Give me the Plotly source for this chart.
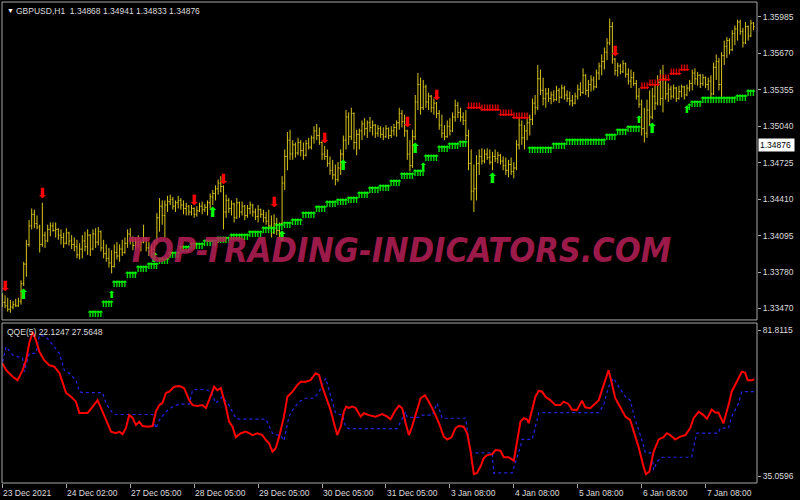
import plotly.graph_objects as go

# ---- GBPUSD H1 bars (index = bar number from the left edge) ----
bar_open = [
    1.3357, 1.3352, 1.3349, 1.3346, 1.3348, 1.3350, 1.3349, 1.3353, 1.3368, 1.3385,
    1.3402, 1.3418, 1.3428, 1.3420, 1.3417, 1.3402, 1.3410, 1.3405, 1.3415, 1.3418,
    1.3414, 1.3415, 1.3410, 1.3408, 1.3403, 1.3412, 1.3405, 1.3402, 1.3400, 1.3393,
    1.3398, 1.3405, 1.3400, 1.3410, 1.3398, 1.3411, 1.3404, 1.3413, 1.3399, 1.3394,
    1.3390, 1.3386, 1.3383, 1.3395, 1.3392, 1.3398, 1.3395, 1.3403, 1.3411, 1.3406,
    1.3401, 1.3404, 1.3402, 1.3404, 1.3407, 1.3399, 1.3396, 1.3398, 1.3403, 1.3425,
    1.3435, 1.3427, 1.3436, 1.3439, 1.3441, 1.3435, 1.3438, 1.3440, 1.3436, 1.3433,
    1.3435, 1.3430, 1.3433, 1.3428, 1.3431, 1.3435, 1.3432, 1.3434, 1.3438, 1.3443,
    1.3446, 1.3450, 1.3455, 1.3452, 1.3430, 1.3440, 1.3433, 1.3437, 1.3425, 1.3438,
    1.3430, 1.3435, 1.3427, 1.3433, 1.3436, 1.3430, 1.3426, 1.3432, 1.3428, 1.3425,
    1.3422, 1.3418, 1.3412, 1.3420, 1.3414, 1.3420, 1.3455, 1.3478, 1.3492, 1.3480,
    1.3488, 1.3481, 1.3490, 1.3483, 1.3479, 1.3489, 1.3486, 1.3494, 1.3500, 1.3496,
    1.3490, 1.3480, 1.3478, 1.3472, 1.3466, 1.3462, 1.3458, 1.3468, 1.3480, 1.3492,
    1.3512, 1.3495, 1.3515, 1.3490, 1.3497, 1.3500, 1.3506, 1.3502, 1.3507, 1.3503,
    1.3505, 1.3498, 1.3502, 1.3497, 1.3495, 1.3502, 1.3496, 1.3500, 1.3503, 1.3507,
    1.3515, 1.3508, 1.3500, 1.3480, 1.3470, 1.3495, 1.3525, 1.3540, 1.3520, 1.3538,
    1.3525, 1.3530, 1.3520, 1.3524, 1.3515, 1.3505, 1.3498, 1.3495, 1.3504, 1.3500,
    1.3512, 1.3522, 1.3516, 1.3512, 1.3509, 1.3496, 1.3472, 1.3448, 1.3450, 1.3472,
    1.3478, 1.3474, 1.3480, 1.3477, 1.3473, 1.3478, 1.3476, 1.3479, 1.3474, 1.3470,
    1.3466, 1.3471, 1.3465, 1.3468, 1.3488, 1.3505, 1.3494, 1.3500, 1.3507, 1.3510,
    1.3524, 1.3520, 1.3545, 1.3535, 1.3528, 1.3532, 1.3528, 1.3531, 1.3527, 1.3535,
    1.3529, 1.3537, 1.3531, 1.3528, 1.3526, 1.3524, 1.3530, 1.3536, 1.3533, 1.3548,
    1.3535, 1.3540, 1.3544, 1.3538, 1.3550, 1.3556, 1.3560, 1.3568, 1.3576, 1.3590,
    1.3562, 1.3552, 1.3556, 1.3551, 1.3558, 1.3549, 1.3543, 1.3546, 1.3541, 1.3530,
    1.3523, 1.3502, 1.3498, 1.3518, 1.3512, 1.3530, 1.3524, 1.3542, 1.3528, 1.3545,
    1.3532, 1.3536, 1.3530, 1.3537, 1.3528, 1.3534, 1.3538, 1.3531, 1.3537, 1.3541,
    1.3550, 1.3545, 1.3548, 1.3541, 1.3546, 1.3540, 1.3543, 1.3532, 1.3555, 1.3560,
    1.3540, 1.3565, 1.3573, 1.3578, 1.3570, 1.3584, 1.3588, 1.3594, 1.3586, 1.3576,
    1.3590, 1.3582, 1.3593,
]
bar_high = [
    1.3360, 1.3358, 1.3356, 1.3354, 1.3353, 1.3355, 1.3356, 1.3371, 1.3387, 1.3406,
    1.3423, 1.3433, 1.3432, 1.3427, 1.3419, 1.3438, 1.3413, 1.3419, 1.3421, 1.3421,
    1.3421, 1.3416, 1.3415, 1.3412, 1.3416, 1.3413, 1.3410, 1.3408, 1.3406, 1.3403,
    1.3410, 1.3413, 1.3415, 1.3411, 1.3415, 1.3416, 1.3417, 1.3414, 1.3406, 1.3402,
    1.3399, 1.3397, 1.3402, 1.3404, 1.3402, 1.3406, 1.3408, 1.3415, 1.3416, 1.3409,
    1.3408, 1.3410, 1.3406, 1.3419, 1.3408, 1.3404, 1.3402, 1.3406, 1.3429, 1.3442,
    1.3440, 1.3440, 1.3444, 1.3445, 1.3443, 1.3440, 1.3444, 1.3442, 1.3440, 1.3438,
    1.3436, 1.3436, 1.3434, 1.3435, 1.3438, 1.3439, 1.3437, 1.3440, 1.3446, 1.3449,
    1.3453, 1.3458, 1.3461, 1.3453, 1.3445, 1.3442, 1.3440, 1.3438, 1.3442, 1.3439,
    1.3439, 1.3436, 1.3436, 1.3439, 1.3437, 1.3433, 1.3436, 1.3433, 1.3432, 1.3430,
    1.3432, 1.3427, 1.3428, 1.3425, 1.3421, 1.3461, 1.3484, 1.3499, 1.3501, 1.3492,
    1.3490, 1.3494, 1.3492, 1.3490, 1.3492, 1.3494, 1.3496, 1.3504, 1.3506, 1.3503,
    1.3491, 1.3487, 1.3484, 1.3478, 1.3475, 1.3471, 1.3473, 1.3484, 1.3496, 1.3518,
    1.3516, 1.3520, 1.3516, 1.3501, 1.3502, 1.3509, 1.3511, 1.3509, 1.3512, 1.3509,
    1.3506, 1.3505, 1.3504, 1.3503, 1.3505, 1.3503, 1.3504, 1.3506, 1.3509, 1.3520,
    1.3518, 1.3514, 1.3501, 1.3492, 1.3501, 1.3531, 1.3550, 1.3546, 1.3544, 1.3540,
    1.3533, 1.3531, 1.3528, 1.3525, 1.3518, 1.3514, 1.3505, 1.3509, 1.3511, 1.3516,
    1.3527, 1.3525, 1.3520, 1.3516, 1.3518, 1.3501, 1.3484, 1.3471, 1.3479, 1.3484,
    1.3485, 1.3484, 1.3485, 1.3484, 1.3482, 1.3484, 1.3482, 1.3480, 1.3478, 1.3477,
    1.3475, 1.3477, 1.3473, 1.3492, 1.3511, 1.3509, 1.3505, 1.3511, 1.3514, 1.3528,
    1.3531, 1.3557, 1.3553, 1.3546, 1.3537, 1.3537, 1.3534, 1.3535, 1.3539, 1.3537,
    1.3540, 1.3539, 1.3535, 1.3534, 1.3531, 1.3533, 1.3540, 1.3542, 1.3554, 1.3549,
    1.3544, 1.3548, 1.3547, 1.3553, 1.3559, 1.3566, 1.3572, 1.3580, 1.3597, 1.3594,
    1.3563, 1.3559, 1.3558, 1.3561, 1.3559, 1.3554, 1.3553, 1.3551, 1.3544, 1.3537,
    1.3527, 1.3520, 1.3527, 1.3535, 1.3537, 1.3540, 1.3548, 1.3553, 1.3557, 1.3546,
    1.3541, 1.3539, 1.3540, 1.3538, 1.3539, 1.3540, 1.3539, 1.3540, 1.3544, 1.3553,
    1.3554, 1.3551, 1.3549, 1.3549, 1.3547, 1.3546, 1.3548, 1.3559, 1.3566, 1.3563,
    1.3568, 1.3578, 1.3581, 1.3580, 1.3587, 1.3591, 1.3596, 1.3596, 1.3589, 1.3594,
    1.3591, 1.3596, 1.3594,
]
bar_low = [
    1.3348, 1.3347, 1.3344, 1.3343, 1.3346, 1.3348, 1.3348, 1.3350, 1.3366, 1.3374,
    1.3400, 1.3415, 1.3416, 1.3415, 1.3395, 1.3400, 1.3399, 1.3404, 1.3409, 1.3413,
    1.3408, 1.3406, 1.3402, 1.3399, 1.3402, 1.3401, 1.3398, 1.3396, 1.3390, 1.3389,
    1.3390, 1.3396, 1.3393, 1.3392, 1.3397, 1.3399, 1.3401, 1.3396, 1.3390, 1.3387,
    1.3382, 1.3377, 1.3382, 1.3389, 1.3387, 1.3392, 1.3394, 1.3399, 1.3402, 1.3397,
    1.3397, 1.3399, 1.3396, 1.3403, 1.3396, 1.3392, 1.3391, 1.3393, 1.3402, 1.3413,
    1.3419, 1.3408, 1.3430, 1.3436, 1.3432, 1.3430, 1.3433, 1.3432, 1.3428, 1.3427,
    1.3427, 1.3427, 1.3425, 1.3426, 1.3430, 1.3428, 1.3430, 1.3427, 1.3433, 1.3436,
    1.3440, 1.3445, 1.3447, 1.3415, 1.3425, 1.3429, 1.3427, 1.3421, 1.3424, 1.3425,
    1.3427, 1.3423, 1.3425, 1.3428, 1.3426, 1.3423, 1.3421, 1.3425, 1.3421, 1.3419,
    1.3415, 1.3408, 1.3411, 1.3410, 1.3408, 1.3419, 1.3449, 1.3466, 1.3475, 1.3475,
    1.3477, 1.3479, 1.3478, 1.3475, 1.3478, 1.3484, 1.3484, 1.3489, 1.3492, 1.3488,
    1.3475, 1.3475, 1.3469, 1.3462, 1.3458, 1.3453, 1.3456, 1.3462, 1.3475, 1.3484,
    1.3488, 1.3492, 1.3484, 1.3479, 1.3484, 1.3492, 1.3496, 1.3494, 1.3499, 1.3496,
    1.3494, 1.3495, 1.3494, 1.3492, 1.3494, 1.3493, 1.3494, 1.3496, 1.3495, 1.3501,
    1.3503, 1.3495, 1.3475, 1.3465, 1.3468, 1.3492, 1.3518, 1.3514, 1.3518, 1.3520,
    1.3518, 1.3516, 1.3514, 1.3511, 1.3501, 1.3494, 1.3492, 1.3494, 1.3496, 1.3499,
    1.3508, 1.3511, 1.3508, 1.3505, 1.3492, 1.3466, 1.3440, 1.3430, 1.3440, 1.3462,
    1.3471, 1.3472, 1.3475, 1.3471, 1.3466, 1.3473, 1.3472, 1.3471, 1.3466, 1.3462,
    1.3460, 1.3462, 1.3459, 1.3466, 1.3484, 1.3488, 1.3484, 1.3492, 1.3496, 1.3505,
    1.3514, 1.3518, 1.3531, 1.3522, 1.3520, 1.3525, 1.3523, 1.3525, 1.3526, 1.3524,
    1.3528, 1.3527, 1.3525, 1.3522, 1.3521, 1.3523, 1.3527, 1.3530, 1.3532, 1.3531,
    1.3529, 1.3534, 1.3535, 1.3537, 1.3544, 1.3548, 1.3553, 1.3561, 1.3574, 1.3558,
    1.3548, 1.3547, 1.3549, 1.3550, 1.3546, 1.3540, 1.3537, 1.3539, 1.3527, 1.3520,
    1.3496, 1.3490, 1.3494, 1.3505, 1.3510, 1.3518, 1.3522, 1.3522, 1.3516, 1.3527,
    1.3525, 1.3527, 1.3528, 1.3525, 1.3527, 1.3529, 1.3527, 1.3530, 1.3534, 1.3535,
    1.3540, 1.3539, 1.3537, 1.3539, 1.3537, 1.3535, 1.3528, 1.3531, 1.3544, 1.3535,
    1.3528, 1.3557, 1.3563, 1.3566, 1.3569, 1.3574, 1.3578, 1.3583, 1.3572, 1.3575,
    1.3578, 1.3581, 1.3587,
]
bar_close = [
    1.3352, 1.3349, 1.3346, 1.3348, 1.3350, 1.3349, 1.3353, 1.3368, 1.3385, 1.3402,
    1.3418, 1.3428, 1.3420, 1.3417, 1.3402, 1.3410, 1.3405, 1.3415, 1.3418, 1.3414,
    1.3415, 1.3410, 1.3408, 1.3403, 1.3412, 1.3405, 1.3402, 1.3400, 1.3393, 1.3398,
    1.3405, 1.3400, 1.3410, 1.3398, 1.3411, 1.3404, 1.3413, 1.3399, 1.3394, 1.3390,
    1.3386, 1.3383, 1.3395, 1.3392, 1.3398, 1.3395, 1.3403, 1.3411, 1.3406, 1.3401,
    1.3404, 1.3402, 1.3404, 1.3407, 1.3399, 1.3396, 1.3398, 1.3403, 1.3425, 1.3435,
    1.3427, 1.3436, 1.3439, 1.3441, 1.3435, 1.3438, 1.3440, 1.3436, 1.3433, 1.3435,
    1.3430, 1.3433, 1.3428, 1.3431, 1.3435, 1.3432, 1.3434, 1.3438, 1.3443, 1.3446,
    1.3450, 1.3455, 1.3452, 1.3430, 1.3440, 1.3433, 1.3437, 1.3425, 1.3438, 1.3430,
    1.3435, 1.3427, 1.3433, 1.3436, 1.3430, 1.3426, 1.3432, 1.3428, 1.3425, 1.3422,
    1.3418, 1.3412, 1.3420, 1.3414, 1.3420, 1.3455, 1.3478, 1.3492, 1.3480, 1.3488,
    1.3481, 1.3490, 1.3483, 1.3479, 1.3489, 1.3486, 1.3494, 1.3500, 1.3496, 1.3490,
    1.3480, 1.3478, 1.3472, 1.3466, 1.3462, 1.3458, 1.3468, 1.3480, 1.3492, 1.3512,
    1.3495, 1.3515, 1.3490, 1.3497, 1.3500, 1.3506, 1.3502, 1.3507, 1.3503, 1.3505,
    1.3498, 1.3502, 1.3497, 1.3495, 1.3502, 1.3496, 1.3500, 1.3503, 1.3507, 1.3515,
    1.3508, 1.3500, 1.3480, 1.3470, 1.3495, 1.3525, 1.3540, 1.3520, 1.3538, 1.3525,
    1.3530, 1.3520, 1.3524, 1.3515, 1.3505, 1.3498, 1.3495, 1.3504, 1.3500, 1.3512,
    1.3522, 1.3516, 1.3512, 1.3509, 1.3496, 1.3472, 1.3448, 1.3450, 1.3472, 1.3478,
    1.3474, 1.3480, 1.3477, 1.3473, 1.3478, 1.3476, 1.3479, 1.3474, 1.3470, 1.3466,
    1.3471, 1.3465, 1.3468, 1.3488, 1.3505, 1.3494, 1.3500, 1.3507, 1.3510, 1.3524,
    1.3520, 1.3545, 1.3535, 1.3528, 1.3532, 1.3528, 1.3531, 1.3527, 1.3535, 1.3529,
    1.3537, 1.3531, 1.3528, 1.3526, 1.3524, 1.3530, 1.3536, 1.3533, 1.3548, 1.3535,
    1.3540, 1.3544, 1.3538, 1.3550, 1.3556, 1.3560, 1.3568, 1.3576, 1.3590, 1.3562,
    1.3552, 1.3556, 1.3551, 1.3558, 1.3549, 1.3543, 1.3546, 1.3541, 1.3530, 1.3523,
    1.3502, 1.3498, 1.3518, 1.3512, 1.3530, 1.3524, 1.3542, 1.3528, 1.3545, 1.3532,
    1.3536, 1.3530, 1.3537, 1.3528, 1.3534, 1.3538, 1.3531, 1.3537, 1.3541, 1.3550,
    1.3545, 1.3548, 1.3541, 1.3546, 1.3540, 1.3543, 1.3532, 1.3555, 1.3560, 1.3540,
    1.3565, 1.3573, 1.3578, 1.3570, 1.3584, 1.3588, 1.3594, 1.3586, 1.3576, 1.3590,
    1.3582, 1.3593, 1.3590,
]
bar_idx = list(range(len(bar_close)))

# trailing-stop dots (one arrow per bar)
trail_up_x = list(range(33, 175)) + list(range(198, 240)) + list(range(258, 283))
trail_up = (
    [1.3341] * 5 + [1.3350] * 4 + [1.3367] * 5 + [1.3375] * 4 + [1.3380] * 4
    + [1.3383] * 4 + [1.3387] * 4 + [1.3392] * 4 + [1.3397] * 4 + [1.3400] * 5
    + [1.3403] * 5 + [1.3405] * 5 + [1.3408] * 7 + [1.3410] * 5 + [1.3414] * 5
    + [1.3416] * 3 + [1.3418] * 3 + [1.3421] * 4 + [1.3427] * 5 + [1.3432] * 4
    + [1.3436] * 4 + [1.3438] * 4 + [1.3440] * 4 + [1.3444] * 4 + [1.3448] * 4
    + [1.3450] * 4 + [1.3454] * 4 + [1.3460] * 5 + [1.3463] * 4 + [1.3476] * 5
    + [1.3484] * 4 + [1.3486] * 4 + [1.3488] * 3
    + [1.3483] * 9 + [1.3486] * 5 + [1.3490] * 15 + [1.3494] * 4 + [1.3498] * 4
    + [1.3501] * 5
    + [1.3520] * 1 + [1.3523] * 4 + [1.3526] * 13 + [1.3528] * 4 + [1.3532] * 3
)
trail_dn_x = list(range(175, 198)) + list(range(240, 258))
trail_dn = (
    [1.3521] * 5 + [1.3519] * 7 + [1.3515] * 5 + [1.3512] * 6
    + [1.3538] * 3 + [1.3541] * 4 + [1.3545] * 4 + [1.3550] * 4 + [1.3554] * 3
)

# signal arrows
sig_dn_x = [1, 15, 72, 83, 102, 121, 152, 163, 230]
sig_dn = [1.3365, 1.3445, 1.3439, 1.3457, 1.3437, 1.3493, 1.3506, 1.3530, 1.3568]
sig_up_x = [8, 57, 79, 105, 128, 155, 184, 244]
sig_up = [1.3358, 1.3390, 1.3429, 1.3408, 1.3469, 1.3484, 1.3458, 1.3501]
sig_up_small_x = [41, 158, 239, 257]
sig_up_small = [1.3358, 1.3468, 1.3509, 1.3518]

# ---- QQE(5) sub-window ----
qqe_x = [
    0, 1.4, 3.9, 5.7, 7.6, 8.9, 10.1, 11.4, 12.6, 13.9, 15.7, 17.6, 19.5, 21.4, 23.9,
    25.8, 27.6, 28.9, 30.1, 32.0, 33.9, 35.7, 37.0, 38.9, 40.8, 42.6, 43.9, 45.1, 46.4,
    47.6, 48.9, 50.1, 51.4, 52.6, 54.5, 56.4, 57.6, 58.9, 60.1, 61.4, 62.6, 64.5, 66.4,
    68.2, 70.1, 71.4, 73.2, 75.1, 76.4, 77.6, 79.5, 80.7, 82.0, 83.9, 85.1, 86.4, 87.6,
    89.5, 91.4, 92.6, 93.9, 95.7, 97.6, 98.9, 100.1, 101.4, 102.6, 103.9, 105.7, 107.0,
    108.9, 110.7, 112.0, 113.9, 115.7, 117.6, 118.9, 120.1, 122.0, 123.2, 124.5, 125.7,
    127.0, 128.2, 129.1, 130.1, 131.3, 132.6, 134.5, 135.7, 137.6, 140.1, 142.6, 144.5,
    145.7, 147.6, 148.9, 150.1, 151.4, 152.6, 153.8, 155.7, 157.0, 158.6, 160.1, 162.0,
    163.9, 165.7, 167.0, 168.6, 170.1, 171.4, 173.2, 174.5, 175.7, 177.0, 178.2, 179.5,
    180.7, 182.0, 183.9, 185.1, 187.0, 188.2, 190.1, 192.0, 193.2, 194.5, 195.7, 197.0,
    197.6, 198.8, 200.1, 201.4, 202.6, 203.9, 205.7, 207.6, 209.5, 210.7, 212.6, 213.8,
    215.7, 217.6, 218.8, 220.7, 222.6, 223.9, 225.7, 227.6, 228.8, 230.1, 232.0, 233.9,
    235.7, 237.6, 238.8, 240.7, 241.6, 242.9, 244.5, 246.4, 248.2, 249.5, 250.7, 252.6,
    254.5, 256.4, 258.2, 259.5, 261.4, 263.2, 264.5, 266.3, 267.6, 268.8, 270.7, 272.6,
    273.8, 275.7, 277.6, 278.8, 279.8, 281.3, 282.3,
]
qqe_main = [
    71.2, 69.0, 66.9, 65.8, 69.0, 72.2, 77.7, 81.3, 78.6, 74.9, 72.2, 70.6, 70.1, 68.1, 61.7,
    60.5, 58.9, 55.3, 55.3, 55.3, 57.3, 59.4, 56.9, 53.0, 49.3, 48.8, 49.3, 48.5, 50.5,
    54.6, 53.7, 51.4, 52.5, 51.1, 50.9, 51.1, 55.7, 57.8, 58.5, 61.7, 62.1, 63.7, 63.9,
    63.3, 59.4, 57.8, 57.5, 57.8, 56.9, 59.4, 63.7, 62.6, 63.3, 57.3, 52.5, 50.9, 47.5,
    48.8, 49.3, 48.8, 48.2, 48.8, 48.2, 46.6, 45.6, 42.9, 44.0, 47.7, 54.1, 60.5,
    62.1, 64.2, 65.3, 65.3, 65.8, 68.0, 67.4, 63.7, 59.4, 56.2, 52.0, 48.2,
    50.9, 55.7, 57.3, 56.9, 57.3, 56.9, 54.1, 55.2, 54.6, 54.1, 54.9, 54.1,
    53.3, 56.2, 57.6, 56.8, 52.0, 48.2, 50.9, 56.2, 60.0, 61.0, 58.9, 55.7,
    52.0, 47.7, 46.8, 47.5, 50.4, 51.1, 50.9, 48.8, 43.4, 35.7, 36.1, 38.1,
    40.8, 41.8, 42.1, 43.4, 43.2, 41.1, 41.1, 40.0, 45.6, 52.5, 53.6, 53.2,
    52.0, 55.7, 60.5, 62.4, 62.1, 60.5, 59.4, 57.8, 57.8, 58.9, 58.1, 56.4,
    56.2, 59.2, 57.1, 56.8, 58.4, 59.4, 64.2, 69.0, 64.8, 60.0, 57.1, 54.1,
    53.0, 47.7, 44.5, 38.1, 35.7, 36.5, 42.9, 46.8, 47.5, 48.8, 48.2, 46.8,
    47.7, 48.2, 50.4, 53.6, 55.7, 54.6, 53.4, 56.4, 55.4, 55.4, 52.0, 57.8,
    62.1, 65.3, 68.5, 68.2, 65.8, 65.8, 66.1,
]
qqe_level_x = [
    0.1, 1.4, 3.9, 7.6, 8.2, 10.1, 12.6, 13.9, 16.4, 18.9, 21.4, 23.2, 25.1, 27.6, 28.9,
    30.1, 37.6, 38.9, 41.4, 42.6, 56.4, 57.6, 58.9, 61.4, 63.9, 66.4, 70.1, 71.4, 73.2,
    76.4, 78.3, 80.1, 82.6, 85.1, 87.6, 88.9, 98.9, 101.4, 103.2, 104.5, 105.7, 107.6,
    108.9, 111.4, 113.9, 117.0, 118.9, 121.4, 122.6, 125.1, 127.6, 128.9, 130.1, 148.2,
    148.9, 151.4, 152.0, 156.4, 157.6, 161.4, 163.2, 165.1, 173.9, 175.7, 176.4, 183.9,
    184.5, 185.1, 191.4, 192.6, 194.5, 195.1, 198.9, 200.1, 201.4, 223.9, 225.7, 227.6,
    229.5, 231.4, 233.9, 235.7, 237.6, 240.1, 241.4, 243.8, 244.5, 245.7, 247.6, 258.8,
    259.5, 260.7, 268.8, 269.5, 272.6, 273.8, 276.4, 277.6, 282.6,
]
qqe_level = [
    71.7, 76.5, 73.8, 72.8, 68.5, 74.4, 74.4, 80.2, 79.7, 77.0, 74.4, 69.0, 68.0, 65.8, 62.1,
    61.8, 61.8, 58.4, 55.2, 54.8, 54.8, 50.3, 53.0, 55.7, 57.3, 58.1, 58.1, 62.6, 62.8,
    62.8, 62.1, 58.4, 60.5, 57.8, 53.6, 53.3, 53.3, 48.8, 48.2, 48.2, 46.4, 54.1,
    56.2, 58.9, 60.0, 60.0, 62.1, 66.4, 62.6, 55.2, 54.6, 50.7, 50.3, 50.3,
    51.4, 55.7, 53.9, 53.9, 54.6, 54.6, 58.4, 53.6, 53.6, 42.9, 42.5, 42.5,
    35.9, 36.1, 36.1, 39.2, 44.5, 46.8, 46.8, 50.9, 55.4, 55.4, 57.8, 63.7,
    66.4, 63.7, 60.5, 59.4, 53.0, 46.6, 42.5, 42.5, 37.0, 39.6, 41.1, 41.1,
    44.5, 48.8, 48.8, 50.4, 50.4, 54.1, 58.4, 62.1, 62.1,
]

# ---- axes labels ----
price_ticks = [1.35985, 1.35670, 1.35355, 1.35040, 1.34725, 1.34410, 1.34095, 1.33780, 1.33470]
qqe_ticks = [81.8115, 35.0596]
date_ticks = [0, 24, 48, 72, 96, 120, 144, 168, 192, 216, 240, 264]
date_labels = [
    "23 Dec 2021", "24 Dec 02:00", "27 Dec 05:00", "28 Dec 05:00", "29 Dec 05:00",
    "30 Dec 05:00", "31 Dec 05:00", "3 Jan 08:00", "4 Jan 08:00", "5 Jan 08:00",
    "6 Jan 08:00", "7 Jan 08:00",
]
last_price = 1.34876

FG = "#DCDCDC"
FRAME = "#A8A8A8"
BAR = "#D8C41C"
LIME = "#00FF00"
RED = "#FF0000"
FONT = "Liberation Sans, Arial, sans-serif"


def _glyphs(x, y, glyph, color, size, weight="normal"):
    return go.Scatter(
        x=x, y=y, mode="text", text=[glyph] * len(x),
        textposition="middle center",
        textfont=dict(family="DejaVu Sans", size=size, color=color, weight=weight),
        hoverinfo="skip", xaxis="x", yaxis="y",
    )


fig = go.Figure()
fig.add_trace(
    go.Ohlc(
        x=bar_idx, open=bar_open, high=bar_high, low=bar_low, close=bar_close,
        increasing=dict(line=dict(color=BAR, width=1)),
        decreasing=dict(line=dict(color=BAR, width=1)),
        tickwidth=0.4, hoverinfo="skip", xaxis="x", yaxis="y",
    )
)
fig.add_trace(_glyphs(trail_up_x, trail_up, "↑", LIME, 9, "bold"))
fig.add_trace(_glyphs(trail_dn_x, trail_dn, "↓", RED, 9, "bold"))
fig.add_trace(_glyphs(sig_up_x, sig_up, "⬆", LIME, 14))
fig.add_trace(_glyphs(sig_up_small_x, sig_up_small, "⬆", LIME, 10))
fig.add_trace(_glyphs(sig_dn_x, sig_dn, "⬇", RED, 14))

fig.add_trace(
    go.Scatter(
        x=qqe_level_x, y=qqe_level, mode="lines", xaxis="x", yaxis="y2",
        line=dict(color="#2424E8", width=1.2, dash="dot"), hoverinfo="skip",
    )
)
fig.add_trace(
    go.Scatter(
        x=qqe_x, y=qqe_main, mode="lines", xaxis="x", yaxis="y2",
        line=dict(color=RED, width=2), hoverinfo="skip",
    )
)

annotations = [
    dict(text="▼", xref="paper", yref="paper", x=0, y=1, xanchor="left", yanchor="top",
         xshift=3, yshift=-3, showarrow=False, font=dict(size=7, color="white")),
    dict(text="GBPUSD,H1\u00a0\u00a01.34868 1.34941 1.34833 1.34876", xref="paper", yref="paper",
         x=0, y=1, xanchor="left", yanchor="top", xshift=12, yshift=-2, showarrow=False),
    dict(text="QQE(5) 22.1247 27.5648", xref="paper", yref="y2 domain", x=0, y=1,
         xanchor="left", yanchor="top", xshift=3, yshift=-2, showarrow=False),
    dict(text="1.34876\u00a0", xref="paper", yref="y", x=1, y=last_price, xanchor="left",
         yanchor="middle", xshift=1, showarrow=False, bgcolor="white", borderpad=1,
         font=dict(color="black", size=8.5)),
    dict(text="TOP-TRADING-INDICATORS.COM", xref="paper", yref="paper", x=0.526, y=0.4854,
         xanchor="center", yanchor="middle", showarrow=False, opacity=0.86,
         font=dict(family="DejaVu Sans Condensed, DejaVu Sans", size=34, color="#B51F55",
                   weight="bold", style="italic")),
]
for idx, lab in zip(date_ticks, date_labels):
    annotations.append(
        dict(text=lab, xref="x", yref="paper", x=idx, y=0, xanchor="left", yanchor="top",
             xshift=-1, yshift=-3, showarrow=False)
    )

fig.update_layout(
    width=800,
    height=500,
    margin=dict(l=2, r=43, t=2, b=17),
    paper_bgcolor="black",
    plot_bgcolor="black",
    showlegend=False,
    font=dict(family=FONT, size=8.5, color=FG),
    xaxis=dict(
        domain=[0, 1], anchor="y2", range=[-0.15, 283.3], showgrid=False, zeroline=False,
        tickmode="array", tickvals=date_ticks, showticklabels=False,
        ticks="outside", ticklen=4, tickcolor=FRAME, rangeslider=dict(visible=False),
    ),
    yaxis=dict(
        domain=[0.339, 1], anchor="x", side="right", range=[1.33368, 1.36113],
        tickmode="array", tickvals=price_ticks, ticktext=[f"{v:.5f}" for v in price_ticks],
        ticks="outside", ticklen=3, tickcolor=FRAME, showgrid=False, zeroline=False,
    ),
    yaxis2=dict(
        domain=[0, 0.3326], anchor="x", side="right", range=[32.85, 84.1],
        tickmode="array", tickvals=qqe_ticks, ticktext=[f"{v:.4f}" for v in qqe_ticks],
        ticks="outside", ticklen=3, tickcolor=FRAME, showgrid=False, zeroline=False,
    ),
    annotations=annotations,
    shapes=[
        dict(type="rect", xref="x domain", yref="y domain", x0=0, x1=1, y0=0, y1=1,
             line=dict(color=FRAME, width=1)),
        dict(type="rect", xref="x domain", yref="y2 domain", x0=0, x1=1, y0=0, y1=1,
             line=dict(color=FRAME, width=1)),
    ],
)

# the page's default body margin would push the 800x500 figure off the window
fig.write_html(
    "out.html",
    config={"displayModeBar": False},
    post_script="document.body.style.margin='0';",
)
